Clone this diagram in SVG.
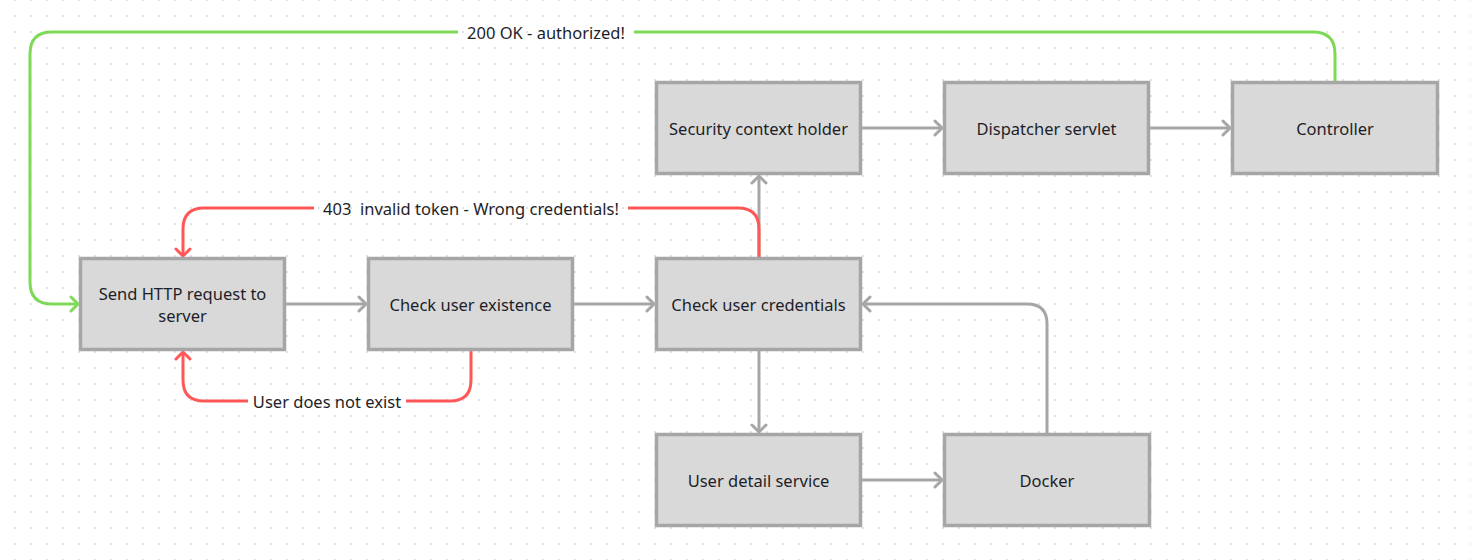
<svg xmlns="http://www.w3.org/2000/svg" width="1471" height="560" viewBox="0 0 1471 560">
<defs>
<pattern id="dots" x="0" y="0" width="16" height="16" patternUnits="userSpaceOnUse">
<rect x="14.25" y="-0.75" width="1.5" height="1.5" fill="#c9c9dd"/>
<rect x="14.25" y="15.25" width="1.5" height="1.5" fill="#c9c9dd"/>
</pattern>
<marker id="ag" markerUnits="userSpaceOnUse" markerWidth="20" markerHeight="20" viewBox="-10 -10 20 20" refX="-1" refY="0" orient="auto">
<polyline points="-8,-7 -1,0 -8,7" fill="none" stroke="#a6a6a6" stroke-width="3" stroke-linecap="round" stroke-linejoin="round"/>
</marker>
<marker id="ar" markerUnits="userSpaceOnUse" markerWidth="20" markerHeight="20" viewBox="-10 -10 20 20" refX="-1" refY="0" orient="auto">
<polyline points="-8,-7 -1,0 -8,7" fill="none" stroke="#ff5757" stroke-width="3" stroke-linecap="round" stroke-linejoin="round"/>
</marker>
<marker id="agr" markerUnits="userSpaceOnUse" markerWidth="20" markerHeight="20" viewBox="-10 -10 20 20" refX="-1" refY="0" orient="auto">
<polyline points="-8,-7 -1,0 -8,7" fill="none" stroke="#7ed957" stroke-width="3" stroke-linecap="round" stroke-linejoin="round"/>
</marker>
</defs>
<style>
.node rect { fill: #d9d9d9; stroke: #a6a6a6; stroke-width: 3.5; }
.node text, .lbl { font-family: "Noto Sans", "Liberation Sans", sans-serif; font-size: 16.5px; fill: #1e1e28; text-anchor: middle; dominant-baseline: central; white-space: pre; }
.c { fill: none; stroke-width: 3; }
.g { stroke: #a6a6a6; }
.r { stroke: #ff5757; }
.gr { stroke: #7ed957; }
</style>
<rect width="1471" height="560" fill="#ffffff"/>
<rect width="1471" height="560" fill="url(#dots)"/>

<g id="connectors">
<path class="c g" d="M286,304 H366" marker-end="url(#ag)"/>
<path class="c g" d="M574,304 H654" marker-end="url(#ag)"/>
<path class="c g" d="M759,257 V176" marker-end="url(#ag)"/>
<path class="c g" d="M862,128 H942" marker-end="url(#ag)"/>
<path class="c g" d="M1150,128 H1230" marker-end="url(#ag)"/>
<path class="c g" d="M759,351 V432" marker-end="url(#ag)"/>
<path class="c g" d="M862,480 H942" marker-end="url(#ag)"/>
<path class="c g" d="M1047,433 V324 Q1047,304 1027,304 H863" marker-end="url(#ag)"/>
<path class="c r" d="M759,257 V229 Q759,208 738,208 H628"/>
<path class="c r" d="M314,208 H204 Q183,208 183,229 V256" marker-end="url(#ar)"/>
<text class="lbl" x="471" y="208" xml:space="preserve">403  invalid token - Wrong credentials!</text>
<path class="c r" d="M471,351 V380 Q471,401 450,401 H406"/>
<path class="c r" d="M248,401 H204 Q183,401 183,380 V352" marker-end="url(#ar)"/>
<text class="lbl" x="327" y="401">User does not exist</text>
<path class="c gr" d="M1335,81 V54 Q1335,32 1313,32 H634"/>
<path class="c gr" d="M458,32 H52 Q30,32 30,54 V282 Q30,304 52,304 H78" marker-end="url(#agr)"/>
<text class="lbl" x="546" y="32">200 OK - authorized!</text>
</g>

<g id="n-send" class="node"><rect x="80.5" y="258.5" width="204" height="91"/><text x="182.5" y="293">Send HTTP request to</text><text x="182.5" y="315">server</text></g>
<g id="n-exist" class="node"><rect x="368.5" y="258.5" width="204" height="91"/><text x="470.5" y="304">Check user existence</text></g>
<g id="n-cred" class="node"><rect x="656.5" y="258.5" width="204" height="91"/><text x="758.5" y="304">Check user credentials</text></g>
<g id="n-sec" class="node"><rect x="656.5" y="82.5" width="204" height="91"/><text x="758.5" y="128">Security context holder</text></g>
<g id="n-disp" class="node"><rect x="944.5" y="82.5" width="204" height="91"/><text x="1046.5" y="128">Dispatcher servlet</text></g>
<g id="n-ctrl" class="node"><rect x="1232.5" y="82.5" width="205" height="91"/><text x="1335" y="128">Controller</text></g>
<g id="n-uds" class="node"><rect x="656.5" y="434.5" width="204" height="91"/><text x="758.5" y="480">User detail service</text></g>
<g id="n-docker" class="node"><rect x="944.5" y="434.5" width="205" height="91"/><text x="1047" y="480">Docker</text></g>
</svg>
